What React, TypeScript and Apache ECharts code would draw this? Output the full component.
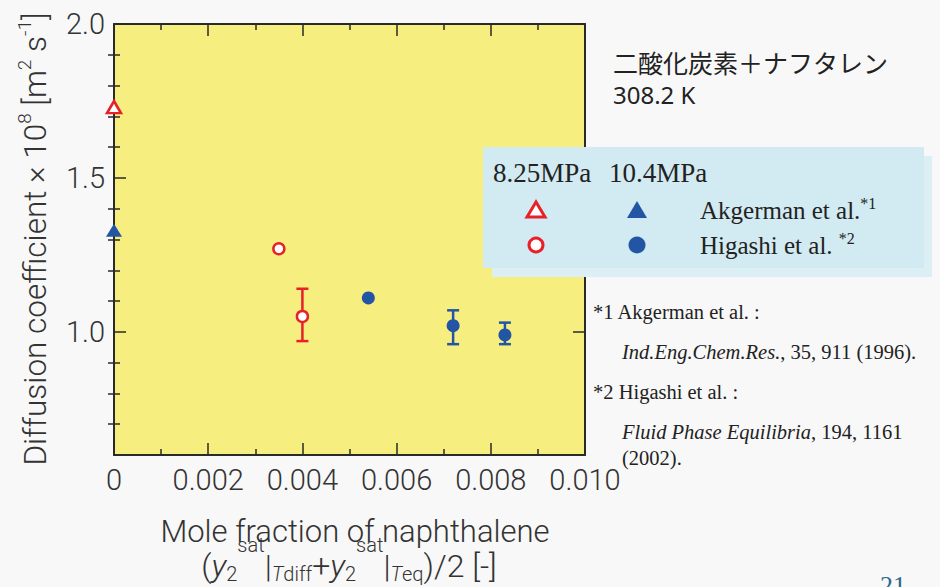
import React, { useEffect, useRef } from "react";
import * as echarts from "echarts";

// ---- data ----
const akgX825 = [0];
const akgY825 = [1.73];
const akgX104 = [0];
const akgY104 = [1.33];
const higX825 = [0.0035, 0.004];
const higY825 = [1.27, 1.05];
const higX104 = [0.0054, 0.0072, 0.0083];
const higY104 = [1.11, 1.02, 0.99];
const errX825 = [0.004];
const errLo825 = [0.97];
const errHi825 = [1.14];
const errX104 = [0.0072, 0.0083];
const errLo104 = [0.96, 0.96];
const errHi104 = [1.07, 1.03];

const yMajorTicks = [1.0, 1.5, 2.0];
const yMinorTicks = [0.7, 0.8, 0.9, 1.1, 1.2, 1.3, 1.4, 1.6, 1.7, 1.8, 1.9];

const RED = "#e8202a";
const BLUE = "#2355a5";
const AXIS = "#2a2a2a";
const TXT = "#333";

const zip = (xs: number[], ys: number[]) => xs.map((x, i) => [x, ys[i]]);
const zip3 = (xs: number[], a: number[], b: number[]) => xs.map((x, i) => [x, a[i], b[i]]);

function errRender(color: string) {
  return (params: any, api: any) => {
    const x = api.value(0);
    const lo = api.coord([x, api.value(1)]);
    const hi = api.coord([x, api.value(2)]);
    const w = 6;
    const st = { stroke: color, lineWidth: 2.5 };
    return {
      type: "group",
      children: [
        { type: "line", shape: { x1: lo[0], y1: lo[1], x2: hi[0], y2: hi[1] }, style: st },
        { type: "line", shape: { x1: lo[0] - w, y1: lo[1], x2: lo[0] + w, y2: lo[1] }, style: st },
        { type: "line", shape: { x1: hi[0] - w, y1: hi[1], x2: hi[0] + w, y2: hi[1] }, style: st },
      ],
    };
  };
}

const SANS = "Roboto";
const SERIF = "'Liberation Serif', serif";

export default function App() {
  const ref = useRef<HTMLDivElement>(null);
  useEffect(() => {
    if (!ref.current) return;
    const chart = echarts.init(ref.current, undefined, { renderer: "svg" });
    const xAxisBase = {
      type: "value",
      min: 0,
      max: 0.01,
      interval: 0.002,
      splitLine: { show: false },
      axisLine: { show: true, onZero: false, lineStyle: { color: AXIS, width: 2 } },
      axisTick: { show: true, inside: true, length: 12, lineStyle: { color: AXIS, width: 1.5 } },
      minorTick: { show: true, splitNumber: 2, length: 6, lineStyle: { color: AXIS, width: 1.5 } },
    };
    const yBase = {
      type: "value",
      min: 0.6,
      max: 2.0,
      splitLine: { show: false },
    };
    const subStyle = { fontFamily: SANS, fontWeight: 300, fontSize: 20, fill: TXT, padding: [16, 0, 0, 0] };
    const option: any = {
      animation: false,
      backgroundColor: "#f8f8f8",
      grid: {
        left: 114,
        top: 24,
        width: 471,
        height: 431,
        show: true,
        backgroundColor: "#f7ee80",
        borderWidth: 0,
      },
      xAxis: [
        {
          ...xAxisBase,
          position: "bottom",
          axisLabel: {
            show: true,
            margin: 10,
            color: TXT,
            fontFamily: SANS,
            fontWeight: 300,
            fontSize: 29,
            formatter: (v: number) => (v === 0 ? "0" : v.toFixed(3)),
          },
        },
        { ...xAxisBase, position: "top", axisLabel: { show: false } },
      ],
      yAxis: [
        {
          ...yBase,
          position: "left",
          axisLine: { show: true, onZero: false, lineStyle: { color: AXIS, width: 2 } },
          axisTick: { show: true, inside: true, length: 12, customValues: yMajorTicks, lineStyle: { color: AXIS, width: 1.5 } },
          axisLabel: {
            show: true,
            customValues: yMajorTicks,
            margin: 9,
            color: TXT,
            fontFamily: SANS,
            fontWeight: 300,
            fontSize: 29,
            formatter: (v: number) => v.toFixed(1),
          },
        },
        {
          ...yBase,
          position: "left",
          axisLine: { show: false },
          axisTick: { show: true, inside: true, length: 6, customValues: yMinorTicks, lineStyle: { color: AXIS, width: 1.5 } },
          axisLabel: { show: false },
        },
        {
          ...yBase,
          position: "right",
          axisLine: { show: true, onZero: false, lineStyle: { color: AXIS, width: 2 } },
          axisTick: { show: true, inside: true, length: 12, customValues: yMajorTicks, lineStyle: { color: AXIS, width: 1.5 } },
          axisLabel: { show: false },
        },
        {
          ...yBase,
          position: "right",
          axisLine: { show: false },
          axisTick: { show: true, inside: true, length: 6, customValues: yMinorTicks, lineStyle: { color: AXIS, width: 1.5 } },
          axisLabel: { show: false },
        },
      ],
      series: [
        {
          type: "custom",
          name: "err825",
          xAxisIndex: 0,
          yAxisIndex: 0,
          data: zip3(errX825, errLo825, errHi825),
          encode: { x: 0, y: [1, 2] },
          renderItem: errRender(RED),
          z: 2,
        },
        {
          type: "custom",
          name: "err104",
          xAxisIndex: 0,
          yAxisIndex: 0,
          data: zip3(errX104, errLo104, errHi104),
          encode: { x: 0, y: [1, 2] },
          renderItem: errRender(BLUE),
          z: 2,
        },
        {
          type: "scatter",
          name: "Akgerman 8.25MPa",
          data: zip(akgX825, akgY825),
          symbol: "triangle",
          symbolSize: [14, 12],
          clip: false,
          itemStyle: { color: "#ffffff", borderColor: RED, borderWidth: 2.5, opacity: 1 },
          z: 5,
        },
        {
          type: "scatter",
          name: "Akgerman 10.4MPa",
          data: zip(akgX104, akgY104),
          symbol: "triangle",
          symbolSize: [16, 13],
          clip: false,
          itemStyle: { color: BLUE, opacity: 1 },
          z: 5,
        },
        {
          type: "scatter",
          name: "Higashi 8.25MPa",
          data: zip(higX825, higY825),
          symbol: "circle",
          symbolSize: 11,
          itemStyle: { color: "#ffffff", borderColor: RED, borderWidth: 2.5, opacity: 1 },
          z: 5,
        },
        {
          type: "scatter",
          name: "Higashi 10.4MPa",
          data: zip(higX104, higY104),
          symbol: "circle",
          symbolSize: 13,
          itemStyle: { color: BLUE, opacity: 1 },
          z: 5,
        },
      ],
      graphic: [
        // y-axis title
        {
          type: "text",
          x: 35,
          y: 239,
          rotation: Math.PI / 2,
          z: 50,
          style: {
            text: "Diffusion coefficient × 10{sup|8} [m{sup|2} s{sup|-1}]",
            fontFamily: SANS,
            fontWeight: 300,
            fontSize: 31.5,
            fill: TXT,
            align: "center",
            verticalAlign: "middle",
            lineHeight: 40,
            rich: {
              sup: { fontFamily: SANS, fontWeight: 300, fontSize: 19, fill: TXT, verticalAlign: "top", lineHeight: 20 },
            },
          },
        },
        // x-axis title line 1
        {
          type: "text",
          x: 355,
          y: 531,
          z: 50,
          style: {
            text: "Mole fraction of naphthalene",
            fontFamily: SANS,
            fontWeight: 300,
            fontSize: 31,
            fill: TXT,
            align: "center",
            verticalAlign: "middle",
          },
        },
        // x-axis title line 2
        {
          type: "text",
          x: 349,
          y: 566,
          z: 50,
          style: {
            text: "({yi|y}{sub|2}{sup|sat}|{subi|T}{sub|diff}+{yi|y}{sub|2}{sup|sat}|{subi|T}{sub|eq})/2 [-]",
            fontFamily: SANS,
            fontWeight: 300,
            fontSize: 32,
            fill: TXT,
            align: "center",
            verticalAlign: "middle",
            lineHeight: 40,
            rich: {
              yi: { fontFamily: SANS, fontWeight: 300, fontStyle: "italic", fontSize: 32, fill: TXT },
              sup: { fontFamily: SANS, fontWeight: 300, fontSize: 20, fill: TXT, padding: [0, 0, 42, 0] },
              sub: subStyle,
              subi: { ...subStyle, fontStyle: "italic" },
            },
          },
        },
        // top-right title
        {
          type: "text",
          x: 613,
          y: 62,
          z: 50,
          style: {
            text: "二酸化炭素＋ナフタレン",
            fontFamily: "'Noto Sans CJK JP'",
            fontSize: 25,
            fill: "#222",
            align: "left",
            verticalAlign: "middle",
          },
        },
        {
          type: "text",
          x: 613,
          y: 94,
          z: 50,
          style: {
            text: "308.2 K",
            fontFamily: "'Noto Sans'",
            fontSize: 24,
            fill: "#222",
            align: "left",
            verticalAlign: "middle",
          },
        },
        // legend box shadow + box
        {
          type: "rect",
          z: 60,
          shape: { x: 492, y: 156, width: 440, height: 121 },
          style: { fill: "#dbeff4" },
        },
        {
          type: "rect",
          z: 61,
          shape: { x: 483, y: 147, width: 441, height: 121 },
          style: { fill: "#d2eaf1" },
        },
        {
          type: "text",
          x: 493,
          y: 173,
          z: 62,
          style: { text: "8.25MPa", fontFamily: SERIF, fontSize: 27, fill: "#222", align: "left", verticalAlign: "middle" },
        },
        {
          type: "text",
          x: 609,
          y: 173,
          z: 62,
          style: { text: "10.4MPa", fontFamily: SERIF, fontSize: 27, fill: "#222", align: "left", verticalAlign: "middle" },
        },
        {
          type: "polygon",
          z: 62,
          shape: { points: [[536, 202], [527, 217], [545, 217]] },
          style: { fill: "#ffffff", stroke: RED, lineWidth: 3 },
        },
        {
          type: "polygon",
          z: 62,
          shape: { points: [[637, 201], [627, 218], [647, 218]] },
          style: { fill: BLUE },
        },
        {
          type: "circle",
          z: 62,
          shape: { cx: 536, cy: 245, r: 7 },
          style: { fill: "#ffffff", stroke: RED, lineWidth: 3 },
        },
        {
          type: "circle",
          z: 62,
          shape: { cx: 637, cy: 245, r: 8.5 },
          style: { fill: BLUE },
        },
        {
          type: "text",
          x: 700,
          y: 210,
          z: 62,
          style: {
            text: "Akgerman et al.{sup|*1}",
            fontFamily: SERIF,
            fontSize: 25,
            fill: "#222",
            align: "left",
            verticalAlign: "middle",
            lineHeight: 30,
            rich: { sup: { fontFamily: SERIF, fontSize: 16, fill: "#222", verticalAlign: "top", lineHeight: 16 } },
          },
        },
        {
          type: "text",
          x: 700,
          y: 245,
          z: 62,
          style: {
            text: "Higashi et al. {sup|*2}",
            fontFamily: SERIF,
            fontSize: 25,
            fill: "#222",
            align: "left",
            verticalAlign: "middle",
            lineHeight: 30,
            rich: { sup: { fontFamily: SERIF, fontSize: 16, fill: "#222", verticalAlign: "top", lineHeight: 16 } },
          },
        },
        // references
        {
          type: "text",
          x: 593,
          y: 312,
          z: 50,
          style: { text: "*1 Akgerman et al. :", fontFamily: SERIF, fontSize: 20.5, fill: "#222", align: "left", verticalAlign: "middle" },
        },
        {
          type: "text",
          x: 622,
          y: 352,
          z: 50,
          style: {
            text: "{i|Ind.Eng.Chem.Res.}, 35, 911 (1996).",
            fontFamily: SERIF,
            fontSize: 20.5,
            fill: "#222",
            align: "left",
            verticalAlign: "middle",
            rich: { i: { fontFamily: SERIF, fontStyle: "italic", fontSize: 20.5, fill: "#222" } },
          },
        },
        {
          type: "text",
          x: 593,
          y: 392,
          z: 50,
          style: { text: "*2 Higashi et al. :", fontFamily: SERIF, fontSize: 20.5, fill: "#222", align: "left", verticalAlign: "middle" },
        },
        {
          type: "text",
          x: 622,
          y: 432,
          z: 50,
          style: {
            text: "{i|Fluid Phase Equilibria}, 194, 1161",
            fontFamily: SERIF,
            fontSize: 20.5,
            fill: "#222",
            align: "left",
            verticalAlign: "middle",
            rich: { i: { fontFamily: SERIF, fontStyle: "italic", fontSize: 20.5, fill: "#222" } },
          },
        },
        {
          type: "text",
          x: 622,
          y: 458,
          z: 50,
          style: { text: "(2002).", fontFamily: SERIF, fontSize: 20.5, fill: "#222", align: "left", verticalAlign: "middle" },
        },
        // page number
        {
          type: "text",
          x: 893,
          y: 572,
          z: 50,
          style: { text: "21", fontFamily: SERIF, fontSize: 26, fill: "#2a6a87", align: "center", verticalAlign: "top" },
        },
      ],
    };
    chart.setOption(option);
    return () => chart.dispose();
  }, []);
  return (
    <div
      ref={ref}
      style={{ position: "absolute", left: 0, top: 0, width: 940, height: 587, background: "#f8f8f8" }}
    />
  );
}
